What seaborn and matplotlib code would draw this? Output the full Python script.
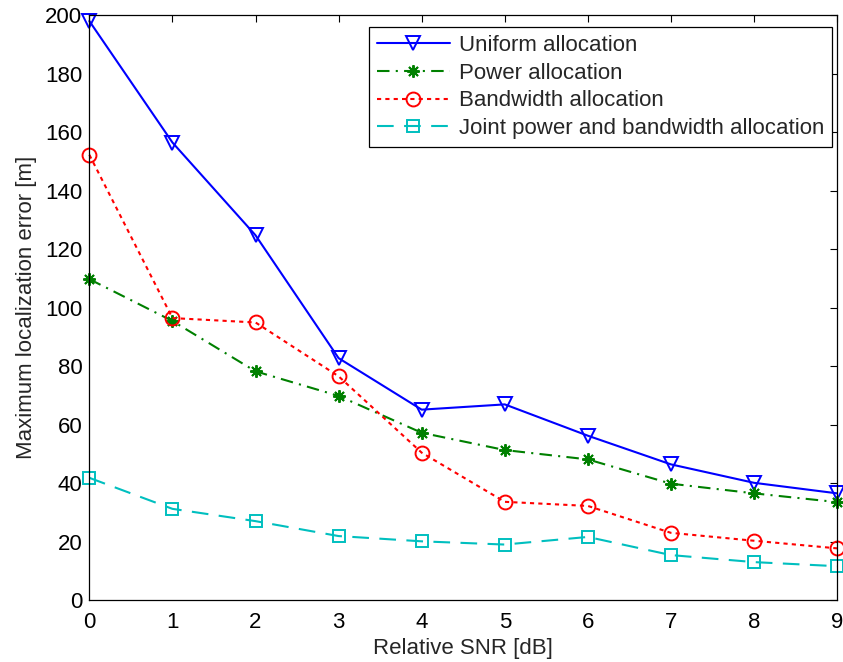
import matplotlib
matplotlib.use('Agg')
import matplotlib.pyplot as plt
import seaborn as sns
import numpy as np
import pandas as pd

# Data
snr_db = [0, 1, 2, 3, 4, 5, 6, 7, 8, 9]
uniform = [198.0, 156.5, 124.8, 82.8, 65.2, 67.0, 56.3, 46.5, 40.2, 36.6]
power = [109.8, 95.5, 78.3, 69.9, 57.3, 51.4, 48.2, 39.9, 36.6, 33.6]
bandwidth = [152.3, 96.5, 95.0, 76.6, 50.5, 33.7, 32.3, 23.1, 20.4, 17.8]
joint = [41.9, 31.3, 27.1, 22.0, 20.2, 19.1, 21.7, 15.5, 13.1, 11.7]

series_names = ['Uniform allocation', 'Power allocation',
                'Bandwidth allocation', 'Joint power and bandwidth allocation']
series_values = [uniform, power, bandwidth, joint]

sns.set_theme(style='white')
plt.rcParams['font.family'] = ['Liberation Sans', 'DejaVu Sans']

fig, ax = plt.subplots(figsize=(8.43, 6.62), dpi=100)
fig.subplots_adjust(left=0.106, right=0.993, bottom=0.093, top=0.977)

styles = [
    dict(color='#0000ff', linestyle='-', marker='v', markersize=10),
    dict(color='#008000', linestyle=(0, (6, 3, 1, 3)), marker=(8, 2, 0), markersize=9),
    dict(color='#ff0000', linestyle=(0, (2, 2)), marker='o', markersize=10),
    dict(color='#00bfbf', linestyle=(0, (8, 5)), marker='s', markersize=8),
]

for name, vals, st in zip(series_names, series_values, styles):
    df = pd.DataFrame({'snr': snr_db, 'err': vals})
    sns.lineplot(data=df, x='snr', y='err', ax=ax, label=name,
                 color=st['color'], linestyle=st['linestyle'],
                 marker=st['marker'], markersize=st['markersize'],
                 markerfacecolor='none', markeredgecolor=st['color'],
                 markeredgewidth=1.4, linewidth=1.5, clip_on=False)

ax.set_xlim(0, 9)
ax.set_ylim(0, 200)
ax.set_xticks(range(0, 10))
ax.set_yticks(range(0, 201, 20))
ax.tick_params(direction='in', top=True, right=True, length=5, width=0.8,
               labelsize=16, colors='black')
ax.tick_params(axis='x', pad=8)
ax.tick_params(axis='y', pad=5)
for sp in ax.spines.values():
    sp.set_color('black')
    sp.set_linewidth(0.9)

ax.set_xlabel('Relative SNR [dB]', fontsize=16, labelpad=4)
ax.set_ylabel('Maximum localization error [m]', fontsize=16, labelpad=6)

leg = ax.legend(loc='upper right', bbox_to_anchor=(0.9933, 0.9795),
                fontsize=16, frameon=True, fancybox=False,
                edgecolor='black', framealpha=1, handlelength=3.3,
                borderpad=0.35, labelspacing=0.3, handletextpad=0.4,
                borderaxespad=0)
leg.get_frame().set_linewidth(0.9)

fig.savefig('out.png', dpi=100)
